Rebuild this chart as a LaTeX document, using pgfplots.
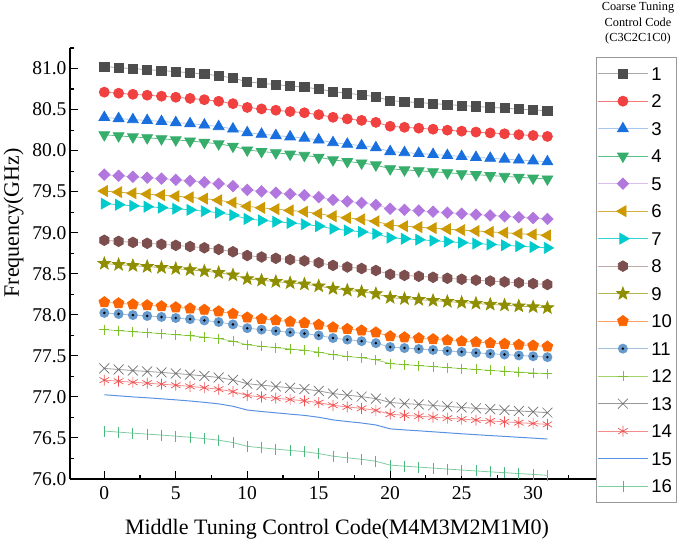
\documentclass[border=0pt]{standalone}
\usepackage{pgfplots}
\pgfplotsset{compat=1.18}
\usepackage{fontspec}
\setmainfont{Liberation Serif}
\newfontfamily\arialf{Liberation Sans}
\usetikzlibrary{plotmarks}

\definecolor{m1}{HTML}{4D4D4D}\definecolor{l1}{HTML}{A8A8A8}
\definecolor{m2}{HTML}{F14040}\definecolor{l2}{HTML}{F47A7A}
\definecolor{m3}{HTML}{1A6FDF}\definecolor{l3}{HTML}{A8C8F0}
\definecolor{m4}{HTML}{37AD6B}\definecolor{l4}{HTML}{5DBE88}
\definecolor{m5}{HTML}{B177DE}\definecolor{l5}{HTML}{D9BEEE}
\definecolor{m6}{HTML}{CC9900}\definecolor{l6}{HTML}{D6AE40}
\definecolor{m7}{HTML}{00CBCC}\definecolor{l7}{HTML}{33D5D6}
\definecolor{m8}{HTML}{7D4E4E}\definecolor{l8}{HTML}{BFA8A8}
\definecolor{m9}{HTML}{8E8E00}\definecolor{l9}{HTML}{B5B555}
\definecolor{m10}{HTML}{FB6501}\definecolor{l10}{HTML}{FCA066}
\definecolor{m11}{HTML}{6699CC}\definecolor{l11}{HTML}{A3C1E0}
\definecolor{m12}{HTML}{7DC22A}\definecolor{l12}{HTML}{A2D46A}
\definecolor{m13}{HTML}{707070}\definecolor{l13}{HTML}{999999}
\definecolor{m14}{HTML}{F05050}\definecolor{l14}{HTML}{F48C8C}
\definecolor{m15}{HTML}{4A88E0}\definecolor{l15}{HTML}{5A92E2}
\definecolor{m16}{HTML}{4CB97E}\definecolor{l16}{HTML}{80CCA0}

\pgfdeclareplotmark{hexagon*}{%
  \pgfpathmoveto{\pgfpointpolar{30}{\pgfplotmarksize}}%
  \pgfpathlineto{\pgfpointpolar{90}{\pgfplotmarksize}}%
  \pgfpathlineto{\pgfpointpolar{150}{\pgfplotmarksize}}%
  \pgfpathlineto{\pgfpointpolar{210}{\pgfplotmarksize}}%
  \pgfpathlineto{\pgfpointpolar{270}{\pgfplotmarksize}}%
  \pgfpathlineto{\pgfpointpolar{330}{\pgfplotmarksize}}%
  \pgfpathclose
  \pgfusepathqfillstroke
}
\pgfdeclareplotmark{fstar}{%
  \pgfpathmoveto{\pgfpointpolar{90}{\pgfplotmarksize}}%
  \pgfpathlineto{\pgfpointpolar{126}{0.42\pgfplotmarksize}}%
  \pgfpathlineto{\pgfpointpolar{162}{\pgfplotmarksize}}%
  \pgfpathlineto{\pgfpointpolar{198}{0.42\pgfplotmarksize}}%
  \pgfpathlineto{\pgfpointpolar{234}{\pgfplotmarksize}}%
  \pgfpathlineto{\pgfpointpolar{270}{0.42\pgfplotmarksize}}%
  \pgfpathlineto{\pgfpointpolar{306}{\pgfplotmarksize}}%
  \pgfpathlineto{\pgfpointpolar{342}{0.42\pgfplotmarksize}}%
  \pgfpathlineto{\pgfpointpolar{18}{\pgfplotmarksize}}%
  \pgfpathlineto{\pgfpointpolar{54}{0.42\pgfplotmarksize}}%
  \pgfpathclose
  \pgfusepathqfillstroke
}
\pgfdeclareplotmark{dotcircle}{%
  \pgfpathcircle{\pgfpointorigin}{\pgfplotmarksize}%
  \pgfusepathqfill
  \pgfscope
  \pgfsetfillcolor{black}%
  \pgfpathcircle{\pgfpointorigin}{0.28\pgfplotmarksize}%
  \pgfusepathqfill
  \endpgfscope
}

\begin{document}
\begin{tikzpicture}
\begin{axis}[
  name=ax,
  scale only axis, width=526pt, height=431pt,
  xmin=-2.4, xmax=34.4, ymin=76, ymax=81.25,
  axis lines=left, axis line style={-, line width=1.4pt},
  x axis line style={-}, y axis line style={-},
  tick align=inside,
  major tick length=8pt, minor tick length=4pt,
  every tick/.style={black, line width=1.1pt},
  xtick={0,5,...,30}, minor xtick={2.5,7.5,...,32.5},
  ytick={76,76.5,...,81}, minor ytick={76.25,76.75,...,81.25},
  /pgf/number format/assume math mode=true,
  yticklabel style={/pgf/number format/.cd, fixed, fixed zerofill, precision=1},
  ticklabel style={font=\fontsize{19.5}{19.5}\selectfont},
  xticklabel style={yshift=-4pt},
  xlabel={Middle Tuning Control Code(M4M3M2M1M0)},
  ylabel={Frequency(GHz)},
  every axis x label/.style={at={(axis description cs:0.5,0)}, anchor=base, yshift=-56pt, xshift=4pt, font=\fontsize{22}{22}\selectfont},
  every axis y label/.style={at={(axis description cs:0,0.594)}, rotate=90, anchor=base, yshift=51pt, font=\fontsize{22}{22}\selectfont},
  legend style={at={(1,0.9791)}, anchor=north west, draw=gray!80, line width=0.8pt,
    fill=white, inner xsep=1pt, inner ysep=2.5pt,
    font=\arialf\fontsize{18.5}{18.5}\selectfont,
    nodes={inner xsep=3pt, inner ysep=0pt, text height=13.5pt, text depth=0pt, minimum height=27.5pt},
    row sep=0pt},
  legend cell align=left,
  legend image code/.code={\draw[mark repeat=2,mark phase=2,#1] plot coordinates {(0pt,0pt) (25pt,0pt) (50pt,0pt)};},
]
\addplot[color=l1, line width=0.8pt, mark=square*, mark size=4.6pt, mark options={solid, draw=m1, fill=m1}] coordinates {
(0,81.024)(1,81.011)(2,80.998)(3,80.987)(4,80.975)(5,80.962)(6,80.948)(7,80.932)(8,80.913)(9,80.884)(10,80.838)(11,80.820)(12,80.804)(13,80.788)(14,80.773)(15,80.750)(16,80.718)(17,80.698)(18,80.680)(19,80.656)(20,80.609)(21,80.596)(22,80.585)(23,80.573)(24,80.561)(25,80.549)(26,80.538)(27,80.527)(28,80.517)(29,80.506)(30,80.496)(31,80.485)};
\addlegendentry{1}
\addplot[color=l2, line width=0.8pt, mark=*, mark size=5pt, mark options={solid, draw=m2, fill=m2}] coordinates {
(0,80.712)(1,80.699)(2,80.686)(3,80.675)(4,80.663)(5,80.650)(6,80.636)(7,80.620)(8,80.601)(9,80.572)(10,80.526)(11,80.508)(12,80.492)(13,80.476)(14,80.461)(15,80.438)(16,80.406)(17,80.386)(18,80.368)(19,80.344)(20,80.297)(21,80.284)(22,80.273)(23,80.261)(24,80.249)(25,80.237)(26,80.226)(27,80.215)(28,80.205)(29,80.194)(30,80.184)(31,80.173)};
\addlegendentry{2}
\addplot[color=l3, line width=0.8pt, mark=triangle*, mark size=6.2pt, mark options={solid, draw=m3, fill=m3}] coordinates {
(0,80.404)(1,80.391)(2,80.378)(3,80.367)(4,80.355)(5,80.342)(6,80.328)(7,80.312)(8,80.293)(9,80.264)(10,80.218)(11,80.200)(12,80.184)(13,80.168)(14,80.153)(15,80.130)(16,80.098)(17,80.078)(18,80.060)(19,80.036)(20,79.989)(21,79.976)(22,79.965)(23,79.953)(24,79.941)(25,79.929)(26,79.918)(27,79.907)(28,79.897)(29,79.886)(30,79.876)(31,79.865)};
\addlegendentry{3}
\addplot[color=l4, line width=0.8pt, mark=triangle*, mark size=6.2pt, mark options={solid, rotate=180, draw=m4, fill=m4}] coordinates {
(0,80.193)(1,80.180)(2,80.167)(3,80.156)(4,80.144)(5,80.131)(6,80.117)(7,80.101)(8,80.082)(9,80.053)(10,80.007)(11,79.989)(12,79.973)(13,79.957)(14,79.942)(15,79.919)(16,79.887)(17,79.867)(18,79.849)(19,79.825)(20,79.778)(21,79.765)(22,79.754)(23,79.742)(24,79.730)(25,79.718)(26,79.707)(27,79.696)(28,79.686)(29,79.675)(30,79.665)(31,79.654)};
\addlegendentry{4}
\addplot[color=l5, line width=0.8pt, mark=square*, mark size=4pt, mark options={solid, rotate=45, draw=m5, fill=m5}] coordinates {
(0,79.707)(1,79.694)(2,79.681)(3,79.670)(4,79.658)(5,79.645)(6,79.631)(7,79.615)(8,79.596)(9,79.567)(10,79.521)(11,79.503)(12,79.487)(13,79.471)(14,79.456)(15,79.433)(16,79.401)(17,79.381)(18,79.363)(19,79.339)(20,79.292)(21,79.279)(22,79.268)(23,79.256)(24,79.244)(25,79.232)(26,79.221)(27,79.210)(28,79.200)(29,79.189)(30,79.179)(31,79.168)};
\addlegendentry{5}
\addplot[color=l6, line width=0.8pt, mark=triangle*, mark size=6.2pt, mark options={solid, rotate=90, draw=m6, fill=m6}] coordinates {
(0,79.507)(1,79.494)(2,79.481)(3,79.470)(4,79.458)(5,79.445)(6,79.431)(7,79.415)(8,79.396)(9,79.367)(10,79.321)(11,79.303)(12,79.287)(13,79.271)(14,79.256)(15,79.233)(16,79.201)(17,79.181)(18,79.163)(19,79.139)(20,79.092)(21,79.079)(22,79.068)(23,79.056)(24,79.044)(25,79.032)(26,79.021)(27,79.010)(28,79.000)(29,78.989)(30,78.979)(31,78.968)};
\addlegendentry{6}
\addplot[color=l7, line width=0.8pt, mark=triangle*, mark size=6.2pt, mark options={solid, rotate=-90, draw=m7, fill=m7}] coordinates {
(0,79.354)(1,79.341)(2,79.328)(3,79.317)(4,79.305)(5,79.292)(6,79.278)(7,79.262)(8,79.243)(9,79.214)(10,79.168)(11,79.150)(12,79.134)(13,79.118)(14,79.103)(15,79.080)(16,79.048)(17,79.028)(18,79.010)(19,78.986)(20,78.939)(21,78.926)(22,78.915)(23,78.903)(24,78.891)(25,78.879)(26,78.868)(27,78.857)(28,78.847)(29,78.836)(30,78.826)(31,78.815)};
\addlegendentry{7}
\addplot[color=l8, line width=0.8pt, mark=hexagon*, mark size=5.3pt, mark options={solid, draw=m8, fill=m8}] coordinates {
(0,78.908)(1,78.895)(2,78.882)(3,78.871)(4,78.859)(5,78.846)(6,78.832)(7,78.816)(8,78.797)(9,78.768)(10,78.722)(11,78.704)(12,78.688)(13,78.672)(14,78.657)(15,78.634)(16,78.602)(17,78.582)(18,78.564)(19,78.540)(20,78.493)(21,78.480)(22,78.469)(23,78.457)(24,78.445)(25,78.433)(26,78.422)(27,78.411)(28,78.401)(29,78.390)(30,78.380)(31,78.369)};
\addlegendentry{8}
\addplot[color=l9, line width=0.8pt, mark=fstar, mark size=6.5pt, mark options={solid, draw=m9, fill=m9}] coordinates {
(0,78.624)(1,78.611)(2,78.598)(3,78.587)(4,78.575)(5,78.562)(6,78.548)(7,78.532)(8,78.513)(9,78.484)(10,78.438)(11,78.420)(12,78.404)(13,78.388)(14,78.373)(15,78.350)(16,78.318)(17,78.298)(18,78.280)(19,78.256)(20,78.209)(21,78.196)(22,78.185)(23,78.173)(24,78.161)(25,78.149)(26,78.138)(27,78.127)(28,78.117)(29,78.106)(30,78.096)(31,78.085)};
\addlegendentry{9}
\addplot[color=l10, line width=0.8pt, mark=pentagon*, mark size=5.6pt, mark options={solid, draw=m10, fill=m10}] coordinates {
(0,78.153)(1,78.140)(2,78.127)(3,78.116)(4,78.104)(5,78.091)(6,78.077)(7,78.061)(8,78.042)(9,78.013)(10,77.967)(11,77.949)(12,77.933)(13,77.917)(14,77.902)(15,77.879)(16,77.847)(17,77.827)(18,77.809)(19,77.785)(20,77.738)(21,77.725)(22,77.714)(23,77.702)(24,77.690)(25,77.678)(26,77.667)(27,77.656)(28,77.646)(29,77.635)(30,77.625)(31,77.614)};
\addlegendentry{10}
\addplot[color=l11, line width=0.8pt, mark=dotcircle, mark size=5pt, mark options={solid, draw=m11, fill=m11}] coordinates {
(0,78.023)(1,78.010)(2,77.997)(3,77.986)(4,77.974)(5,77.961)(6,77.947)(7,77.931)(8,77.912)(9,77.883)(10,77.837)(11,77.819)(12,77.803)(13,77.787)(14,77.772)(15,77.749)(16,77.717)(17,77.697)(18,77.679)(19,77.655)(20,77.608)(21,77.595)(22,77.584)(23,77.572)(24,77.560)(25,77.548)(26,77.537)(27,77.526)(28,77.516)(29,77.505)(30,77.495)(31,77.484)};
\addlegendentry{11}
\addplot[color=l12, line width=0.8pt, mark=+, mark size=5pt, mark options={solid, draw=m12, line width=0.8pt}] coordinates {
(0,77.820)(1,77.807)(2,77.794)(3,77.783)(4,77.771)(5,77.758)(6,77.744)(7,77.728)(8,77.709)(9,77.680)(10,77.634)(11,77.616)(12,77.600)(13,77.584)(14,77.569)(15,77.546)(16,77.514)(17,77.494)(18,77.476)(19,77.452)(20,77.405)(21,77.392)(22,77.381)(23,77.369)(24,77.357)(25,77.345)(26,77.334)(27,77.323)(28,77.313)(29,77.302)(30,77.292)(31,77.281)};
\addlegendentry{12}
\addplot[color=l13, line width=0.8pt, mark=x, mark size=7pt, mark options={solid, draw=m13, line width=0.7pt}] coordinates {
(0,77.347)(1,77.334)(2,77.321)(3,77.310)(4,77.298)(5,77.285)(6,77.271)(7,77.255)(8,77.236)(9,77.207)(10,77.161)(11,77.143)(12,77.127)(13,77.111)(14,77.096)(15,77.073)(16,77.041)(17,77.021)(18,77.003)(19,76.979)(20,76.932)(21,76.919)(22,76.908)(23,76.896)(24,76.884)(25,76.872)(26,76.861)(27,76.850)(28,76.840)(29,76.829)(30,76.819)(31,76.808)};
\addlegendentry{13}
\addplot[color=l14, line width=0.8pt, mark=asterisk, mark size=5.5pt, mark options={solid, draw=m14, line width=0.7pt}] coordinates {
(0,77.204)(1,77.191)(2,77.178)(3,77.167)(4,77.155)(5,77.142)(6,77.128)(7,77.112)(8,77.093)(9,77.064)(10,77.018)(11,77.000)(12,76.984)(13,76.968)(14,76.953)(15,76.930)(16,76.898)(17,76.878)(18,76.860)(19,76.836)(20,76.789)(21,76.776)(22,76.765)(23,76.753)(24,76.741)(25,76.729)(26,76.718)(27,76.707)(28,76.697)(29,76.686)(30,76.676)(31,76.665)};
\addlegendentry{14}
\addplot[color=l15, line width=1pt, mark=none] coordinates {
(0,77.026)(1,77.013)(2,77.000)(3,76.989)(4,76.977)(5,76.964)(6,76.950)(7,76.934)(8,76.915)(9,76.886)(10,76.840)(11,76.822)(12,76.806)(13,76.790)(14,76.775)(15,76.752)(16,76.720)(17,76.700)(18,76.682)(19,76.658)(20,76.611)(21,76.598)(22,76.587)(23,76.575)(24,76.563)(25,76.551)(26,76.540)(27,76.529)(28,76.519)(29,76.508)(30,76.498)(31,76.487)};
\addlegendentry{15}
\addplot[color=l16, line width=0.8pt, mark=|, mark size=5.5pt, mark options={solid, draw=m16, line width=0.8pt}] coordinates {
(0,76.584)(1,76.571)(2,76.558)(3,76.547)(4,76.535)(5,76.522)(6,76.508)(7,76.492)(8,76.473)(9,76.444)(10,76.398)(11,76.380)(12,76.364)(13,76.348)(14,76.333)(15,76.310)(16,76.278)(17,76.258)(18,76.240)(19,76.216)(20,76.169)(21,76.156)(22,76.145)(23,76.133)(24,76.121)(25,76.109)(26,76.098)(27,76.087)(28,76.077)(29,76.066)(30,76.056)(31,76.045)};
\addlegendentry{16}
\end{axis}
\node[anchor=base, font=\fontsize{12.3}{12.3}\selectfont] at ([xshift=42pt,yshift=37pt]ax.north east) {Coarse Tuning};
\node[anchor=base, font=\fontsize{12.3}{12.3}\selectfont] at ([xshift=42pt,yshift=21.5pt]ax.north east) {Control Code};
\node[anchor=base, font=\fontsize{12.3}{12.3}\selectfont] at ([xshift=42pt,yshift=6.3pt]ax.north east) {(C3C2C1C0)};
\pgfresetboundingbox
\path ([xshift=-70pt,yshift=-66pt]ax.south west) rectangle ([xshift=89pt,yshift=48pt]ax.north east);
\end{tikzpicture}
\end{document}
